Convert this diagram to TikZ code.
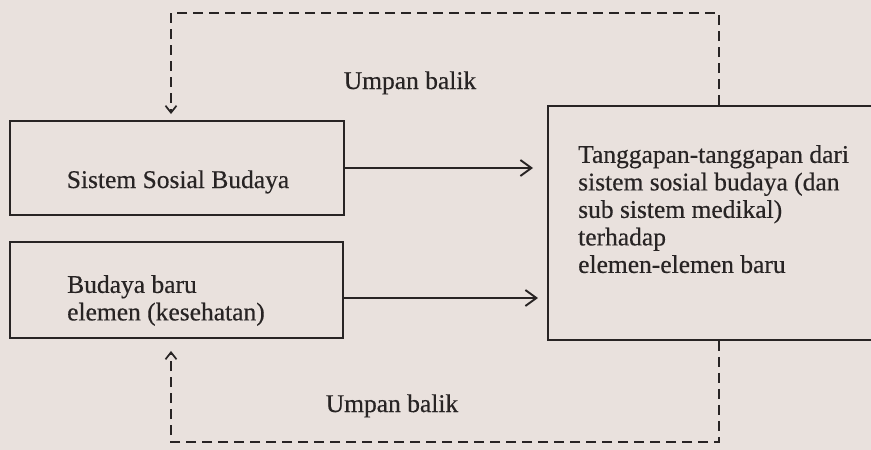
\documentclass[tikz,border=0pt]{standalone}
\usepackage{fontspec}
\setmainfont{Liberation Serif}[FakeBold=0.4]
\usetikzlibrary{arrows.meta,calc}

\definecolor{paper}{RGB}{233,225,221}
\definecolor{ink}{RGB}{40,36,36}

\tikzset{
    box/.style={draw=ink, line width=1.9pt, rectangle, inner sep=0pt},
    txt/.style={text=ink, inner sep=0pt, font=\fontsize{25.5pt}{27.5pt}\selectfont},
    arr/.style={draw=ink, line width=1.9pt, -{Straight Barb[length=11pt,width=16pt]}},
    fb/.style={draw=ink, line width=1.7pt, dash pattern=on 10pt off 6pt, -{Straight Barb[length=7pt,width=11pt]}}
}

\begin{document}
\begin{tikzpicture}[x=1pt,y=-1pt]
            \fill[paper] (0,0) rectangle (871,450);
            \useasboundingbox (0,0) rectangle (871,450);
            % kotak
            \node[box, minimum width=334pt, minimum height=94pt] at (177,168) (sosial) {};
            \node[box, minimum width=333pt, minimum height=96pt] at (176.5,290) (baru) {};
            \node[box, anchor=north west, minimum width=360pt, minimum height=234pt] at (547,105) (tang) {};
            % teks
            \node[txt, anchor=base] at (178,188) (sosialtxt) {Sistem Sosial Budaya};
            \node[txt, anchor=north west, align=left] at (67,275) (barutxt) {Budaya baru\\elemen (kesehatan)};
            \node[txt, anchor=north west, align=left] at (578,145) (tangtxt) {Tanggapan-tanggapan dari\\sistem sosial budaya (dan\\sub sistem medikal)\\terhadap\\elemen-elemen baru};
            \node[txt, anchor=base] at (410,89) (ubatas) {Umpan balik};
            \node[txt, anchor=base] at (392,412) (ubbawah) {Umpan balik};
            % umpan balik
            \coordinate (kanan) at (719,13);
            \coordinate (kiri) at (171,13);
            \coordinate (kananb) at (719,442);
            \coordinate (kirib) at (171,442);
            \coordinate (baruout) at ([yshift=-8pt]baru.east);
            \draw[arr, shorten >=14pt] (sosial.east)--(sosial.east -| tang.west);
            \draw[arr, shorten >=9pt] (baruout)--(baruout -| tang.west);
            \draw[fb, shorten >=6pt] (kanan |- tang.north)--(kanan)--(kiri)--(kiri |- sosial.north);
            \draw[fb, shorten >=12pt] (kananb |- tang.south)--(kananb)--(kirib)--(kirib |- baru.south);
        \end{tikzpicture}
\end{document}
